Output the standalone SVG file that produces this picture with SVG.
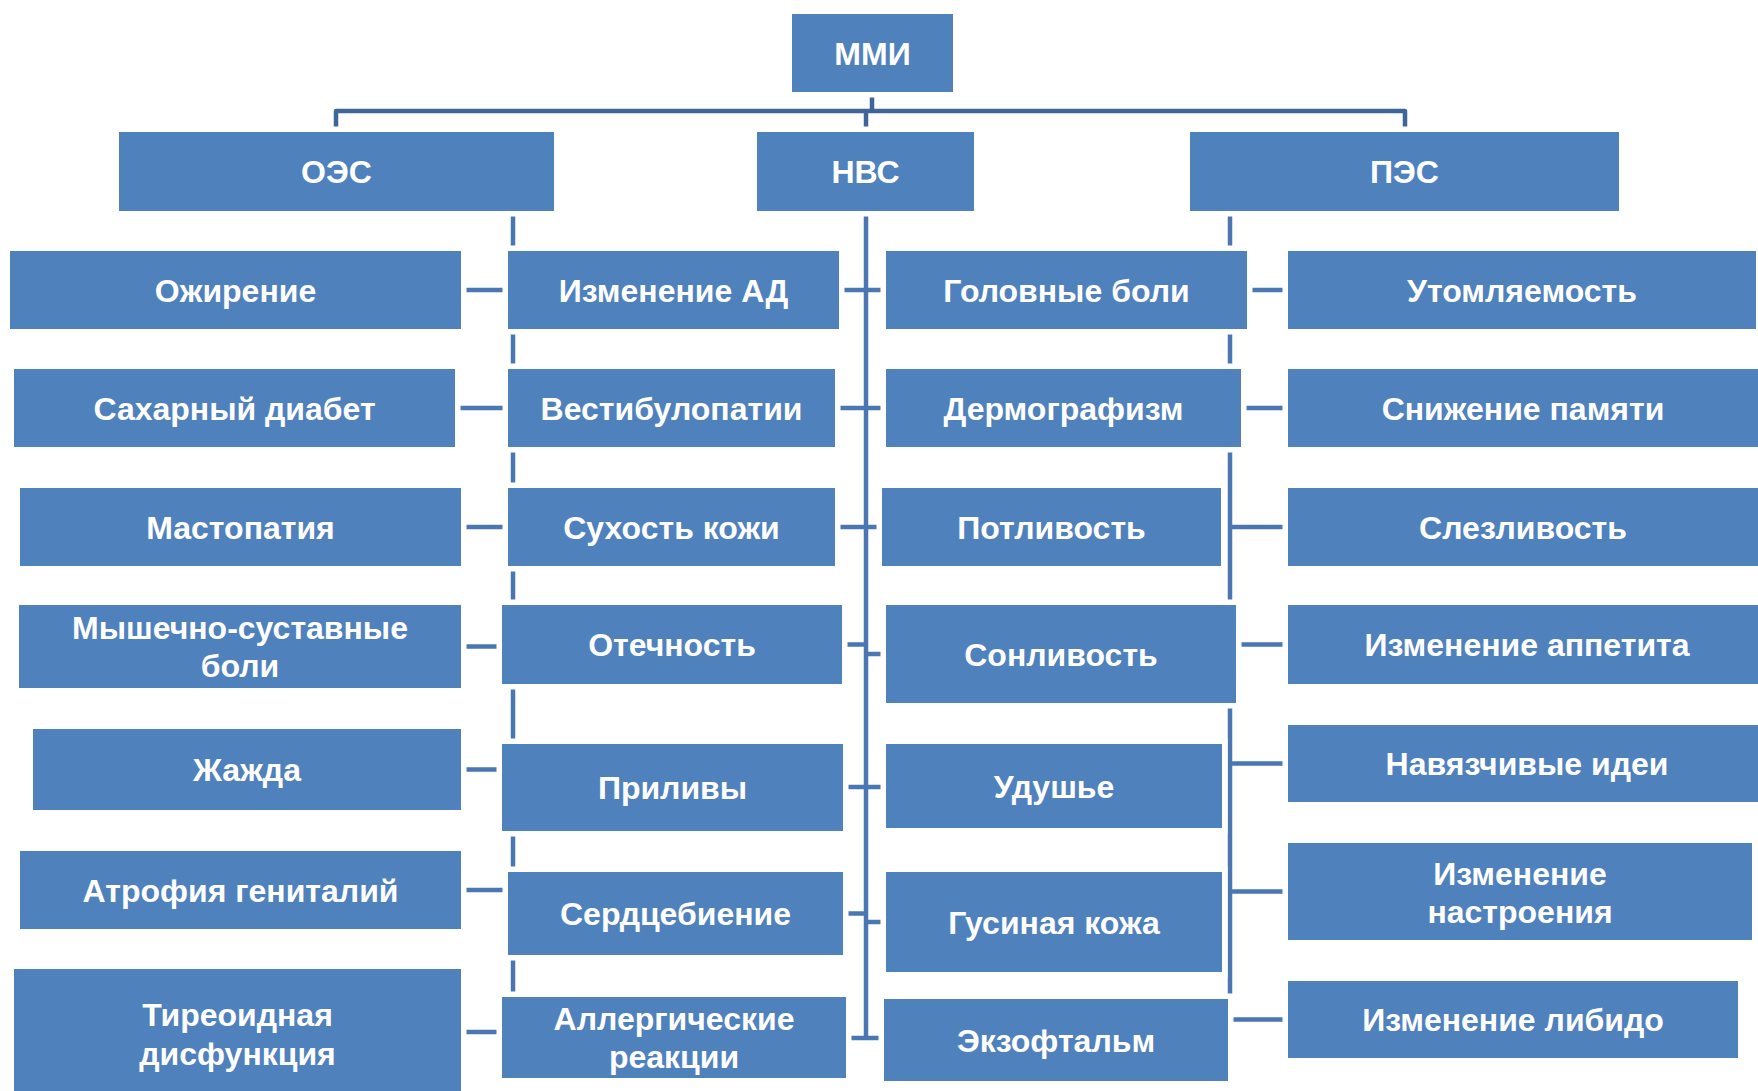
<svg xmlns="http://www.w3.org/2000/svg" width="1758" height="1091" viewBox="0 0 1758 1091">
<style>
.bg{fill:#ffffff}
.box{fill:#4f81bd;stroke:#ffffff;stroke-width:11;paint-order:stroke}
.t{font-family:"Liberation Sans",Arial,sans-serif;font-weight:bold;font-size:32px;fill:#ffffff;text-anchor:middle}
.c{fill:none;stroke:#4a77b1;stroke-width:4.5;stroke-linecap:butt}
.top{fill:none;stroke:#3f6699;stroke-width:4.5;stroke-linejoin:round}
</style>
<rect class="bg" x="0" y="0" width="1758" height="1091"/>
<g id="connectors">
<path class="top" d="M336 132 V111 H1405 V132"/>
<path class="top" d="M872 92 V111"/>
<path class="top" d="M866 111 V132"/>
<path class="c" d="M513 211 V997"/>
<path class="c" d="M866 211 V1040"/>
<path class="c" d="M1230 211 V999"/>
<path class="c" d="M461 290 H508 M455 408 H508 M461 527 H508 M461 646.5 H502 M461 769.5 H502 M461 890 H508 M461 1032 H502"/>
<path class="c" d="M839 290 H886 M835 408 H886 M835 527 H882 M842 644.5 H866 M866 654 H886 M843 787 H886 M843 913.5 H866 M866 922 H886 M846 1038 H884"/>
<path class="c" d="M1247 290 H1288 M1241 408 H1288 M1230 527 H1288 M1236 644.5 H1288 M1230 763.5 H1288 M1230 891.5 H1288 M1228 1019.5 H1288"/>
</g>
<g id="mmi"><rect class="box" x="792" y="14" width="161" height="78"/><text class="t" x="872.5" y="64.5">ММИ</text></g>
<g id="oes"><rect class="box" x="119" y="132" width="435" height="79"/><text class="t" x="336.5" y="182.5">ОЭС</text></g>
<g id="nvs"><rect class="box" x="757" y="132" width="217" height="79"/><text class="t" x="865.5" y="182.5">НВС</text></g>
<g id="pes"><rect class="box" x="1190" y="132" width="429" height="79"/><text class="t" x="1404.5" y="182.5">ПЭС</text></g>

<g id="c1r1"><rect class="box" x="10" y="251" width="451" height="78"/><text class="t" x="235.5" y="301.5">Ожирение</text></g>
<g id="c1r2"><rect class="box" x="14" y="369" width="441" height="78"/><text class="t" x="234.5" y="419.5">Сахарный диабет</text></g>
<g id="c1r3"><rect class="box" x="20" y="488" width="441" height="78"/><text class="t" x="240.5" y="538.5">Мастопатия</text></g>
<g id="c1r4"><rect class="box" x="19" y="605" width="442" height="83"/><text class="t" x="240" y="639">Мышечно-суставные</text><text class="t" x="240" y="677">боли</text></g>
<g id="c1r5"><rect class="box" x="33" y="729" width="428" height="81"/><text class="t" x="247" y="781">Жажда</text></g>
<g id="c1r6"><rect class="box" x="20" y="851" width="441" height="78"/><text class="t" x="240.5" y="901.5">Атрофия гениталий</text></g>
<g id="c1r7"><rect class="box" x="14" y="969" width="447" height="130"/><text class="t" x="237.5" y="1025.5">Тиреоидная</text><text class="t" x="237.5" y="1064.5">дисфункция</text></g>

<g id="c2r1"><rect class="box" x="508" y="251" width="331" height="78"/><text class="t" x="673.5" y="301.5">Изменение АД</text></g>
<g id="c2r2"><rect class="box" x="508" y="369" width="327" height="78"/><text class="t" x="671.5" y="419.5">Вестибулопатии</text></g>
<g id="c2r3"><rect class="box" x="508" y="488" width="327" height="78"/><text class="t" x="671.5" y="538.5">Сухость кожи</text></g>
<g id="c2r4"><rect class="box" x="502" y="605" width="340" height="79"/><text class="t" x="672" y="656">Отечность</text></g>
<g id="c2r5"><rect class="box" x="502" y="744" width="341" height="87"/><text class="t" x="672.5" y="799">Приливы</text></g>
<g id="c2r6"><rect class="box" x="508" y="872" width="335" height="83"/><text class="t" x="675.5" y="925">Сердцебиение</text></g>
<g id="c2r7"><rect class="box" x="502" y="997" width="344" height="81"/><text class="t" x="674" y="1030">Аллергические</text><text class="t" x="674" y="1068">реакции</text></g>

<g id="c3r1"><rect class="box" x="886" y="251" width="361" height="78"/><text class="t" x="1066.5" y="301.5">Головные боли</text></g>
<g id="c3r2"><rect class="box" x="886" y="369" width="355" height="78"/><text class="t" x="1063.5" y="419.5">Дермографизм</text></g>
<g id="c3r3"><rect class="box" x="882" y="488" width="339" height="78"/><text class="t" x="1051.5" y="538.5">Потливость</text></g>
<g id="c3r4"><rect class="box" x="886" y="605" width="350" height="98"/><text class="t" x="1061" y="665.5">Сонливость</text></g>
<g id="c3r5"><rect class="box" x="886" y="744" width="336" height="84"/><text class="t" x="1054" y="797.5">Удушье</text></g>
<g id="c3r6"><rect class="box" x="886" y="872" width="336" height="100"/><text class="t" x="1054" y="933.5">Гусиная кожа</text></g>
<g id="c3r7"><rect class="box" x="884" y="999" width="344" height="82"/><text class="t" x="1056" y="1051.5">Экзофтальм</text></g>

<g id="c4r1"><rect class="box" x="1288" y="251" width="468" height="78"/><text class="t" x="1522" y="301.5">Утомляемость</text></g>
<g id="c4r2"><rect class="box" x="1288" y="369" width="475" height="78"/><text class="t" x="1523" y="419.5">Снижение памяти</text></g>
<g id="c4r3"><rect class="box" x="1288" y="488" width="475" height="78"/><text class="t" x="1523" y="538.5">Слезливость</text></g>
<g id="c4r4"><rect class="box" x="1288" y="605" width="475" height="79"/><text class="t" x="1527" y="656">Изменение аппетита</text></g>
<g id="c4r5"><rect class="box" x="1288" y="725" width="475" height="77"/><text class="t" x="1527" y="775">Навязчивые идеи</text></g>
<g id="c4r6"><rect class="box" x="1288" y="843" width="464" height="97"/><text class="t" x="1520" y="884.5">Изменение</text><text class="t" x="1520" y="922.5">настроения</text></g>
<g id="c4r7"><rect class="box" x="1288" y="981" width="450" height="77"/><text class="t" x="1513" y="1031">Изменение либидо</text></g>
</svg>
